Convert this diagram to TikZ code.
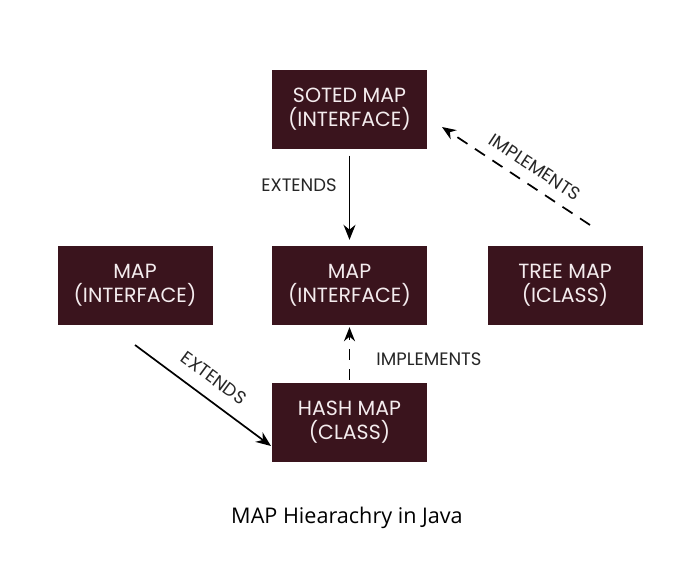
\documentclass[tikz,border=0pt]{standalone}
\usepackage{fontspec}
\setmainfont{Poppins}
\newfontfamily\capfont{Open Sans}
\usetikzlibrary{arrows.meta, positioning, calc}
\definecolor{boxred}{HTML}{3A141D}
\definecolor{boxtext}{HTML}{F4ECEE}
\tikzset{
    mapbox/.style = {fill=boxred, text=boxtext, minimum width=155pt, minimum height=79pt,
                     align=center, font=\fontsize{20.5}{24}\selectfont},
    lbl/.style = {font=\fontsize{18}{20}\selectfont, text=black!85},
    arr/.style = {line width=1.7pt, -{Stealth[length=15pt, width=12pt]}},
    darr/.style = {line width=1.7pt, dash pattern=on 12pt off 9pt, -{Stealth[length=14pt, width=11pt]}}
}
\begin{document}
\begin{tikzpicture}[x=1pt, y=-1pt]
    \useasboundingbox (0,0) rectangle (698,586);
        \node[mapbox] (soted) at (349.5,109) {SOTED MAP\\(INTERFACE)};
        \node[mapbox] (mapl) at (135,285.5) {MAP\\(INTERFACE)};
        \node[mapbox] (mapc) at (349.5,285.5) {MAP\\(INTERFACE)};
        \node[mapbox] (tree) at (565,285.5) {TREE MAP\\(ICLASS)};
        \node[mapbox] (hash) at (349.5,422.5) {HASH MAP\\(CLASS)};
        \coordinate (t1) at (590,225);
        \coordinate (t2) at (442,127);
        \coordinate (l1) at (135,345);
        \coordinate (l2) at (271,446);
    \draw[arr] ($(soted.south)+(0,7)$) -- ($(mapc.north)+(0,-6)$);
        \node[lbl] (ext1) at (299,185) {EXTENDS};
    \draw[darr] (t1) -- (t2);
        \node[lbl, rotate=-33.5] (imp1) at (535,167) {IMPLEMENTS};
    \draw[arr] (l1) -- (l2);
        \node[lbl, rotate=-36.5] (ext2) at (214,378) {EXTENDS};
    \draw[darr, dash pattern=on 11pt off 9pt] ($(hash.north)+(0,-3)$) -- ($(mapc.south)+(0,2)$);
        \node[lbl] (imp2) at (429,359) {IMPLEMENTS};
    \node[font=\capfont\fontsize{21.6}{24}\selectfont] (caption) at (347,518) {MAP Hiearachry in Java};
\end{tikzpicture}
\end{document}
